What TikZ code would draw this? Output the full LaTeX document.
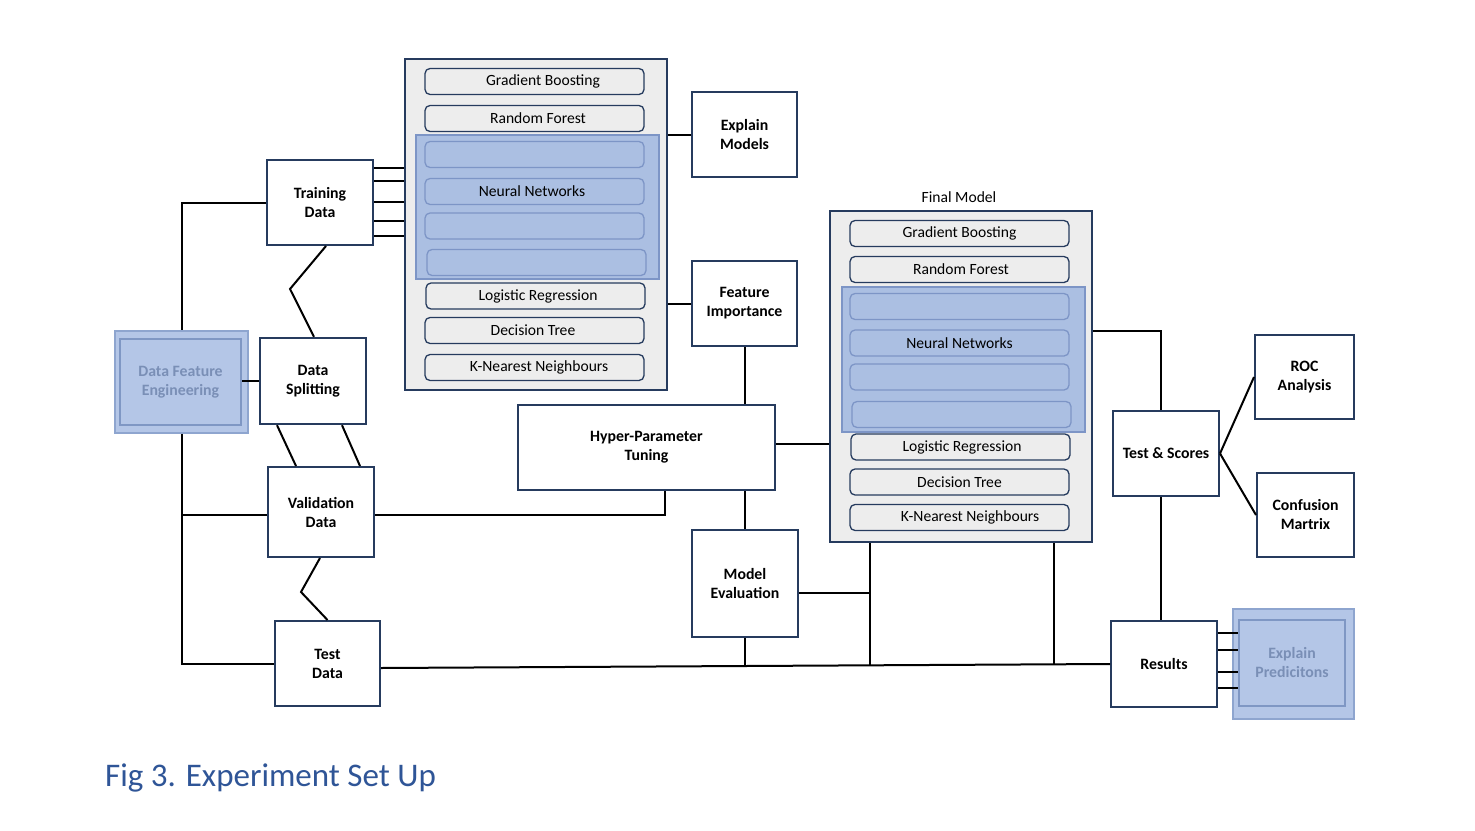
\documentclass[tikz,border=0pt]{standalone}
\usepackage{fontspec}
\setmainfont{Carlito}
\begin{document}
\begin{tikzpicture}[x=1pt,y=-1pt,
  font=\fontsize{15.6}{19}\selectfont,
  box/.style={draw=bordc,line width=2pt,fill=white,align=center,font=\fontsize{15.8}{19}\selectfont\bfseries,inner sep=0pt},
  cont/.style={draw=bordc,line width=2pt,fill=grayf,inner sep=0pt},
  item/.style={draw=bordc,line width=1.3pt,rounded corners=5pt,fill=grayf,minimum width=219pt,minimum height=26pt,inner sep=0pt},
  bitem/.style={draw=bluebord,line width=1.3pt,rounded corners=5pt,fill=bluef,minimum width=219pt,minimum height=26pt,inner sep=0pt},
  bpanel/.style={draw=bluebord,line width=1.2pt,fill=bluef,inner sep=0pt},
  hlo/.style={draw=hlbord,line width=1.5pt,fill=hlfill,inner sep=0pt},
  hli/.style={draw=hlinner,line width=2.5pt,fill=hlfill,align=center,text=hltext,font=\fontsize{15.8}{19}\selectfont\bfseries,inner sep=0pt},
  conn/.style={draw=black,line width=2pt}]
\definecolor{bordc}{HTML}{263B5E}
\definecolor{grayf}{HTML}{EDEDED}
\definecolor{bluef}{HTML}{ABBFE2}
\definecolor{bluebord}{HTML}{7D95C6}
\definecolor{hlfill}{HTML}{B4C6E7}
\definecolor{hlbord}{HTML}{8EA5CF}
\definecolor{hlinner}{HTML}{7F97C4}
\definecolor{hltext}{HTML}{7A8FB6}
\definecolor{capc}{HTML}{2F5597}
\useasboundingbox (0,0) rectangle (1475,830);
\fill[white] (0,0) rectangle (1475,830);

% ---------- left model container ----------
\node[cont,minimum width=262pt,minimum height=331pt] (lc) at (536,224.5) {};
\node[item] (lgb) at (534.5,81.5) {\hspace*{17pt}Gradient Boosting};
\node[item] (lrf) at (534.5,118.5) {\hspace*{7pt}Random Forest};
\node[bpanel,minimum width=243pt,minimum height=144pt] (lbp) at (537.5,207) {};
\node[bitem] (lb1) at (534.5,154.5) {};
\node[bitem] (lnn) at (534.5,191.5) {Neural Networks\hspace*{5pt}};
\node[bitem] (lb3) at (534.5,226) {};
\node[bitem] (lb4) at (536.5,262.5) {};
\node[item] (llr) at (535.5,296) {\hspace*{5pt}Logistic Regression};
\node[item] (ldt) at (534.5,330.5) {Decision Tree\hspace*{3pt}};
\node[item] (lkn) at (534.5,367.5) {\hspace*{9pt}K-Nearest Neighbours};

% ---------- final model container ----------
\node (fmt) at (959,197) {Final Model};
\node[cont,minimum width=262pt,minimum height=331pt] (fm) at (961,376.5) {};
\node[item] (fgb) at (959.5,233.5) {Gradient Boosting};
\node[item] (frf) at (959.5,269.5) {\hspace*{3pt}Random Forest};
\node[bpanel,minimum width=243pt,minimum height=145pt] (fbp) at (963.5,359.5) {};
\node[bitem] (fb1) at (959.5,306.5) {};
\node[bitem] (fnn) at (959.5,343) {Neural Networks};
\node[bitem] (fb3) at (959.5,377) {};
\node[bitem] (fb4) at (961.5,414.5) {};
\node[item] (flr) at (960.5,447) {\hspace*{3pt}Logistic Regression};
\node[item] (fdt) at (959.5,482) {Decision Tree};
\node[item] (fkn) at (959.5,517.5) {\hspace*{21pt}K-Nearest Neighbours};

% ---------- boxes ----------
\node[box,minimum width=106pt,minimum height=85pt] (tr) at (320,202.5) {Training\\Data};
\node[hlo,minimum width=133pt,minimum height=102pt] (dfeo) at (181.5,382) {};
\node[hli,minimum width=121pt,minimum height=86pt] (dfe) at (180.5,382) {Data Feature\\Engineering};
\node[box,minimum width=106pt,minimum height=86pt,line width=2.4pt] (ds) at (313,381) {Data\\Splitting};
\node[box,minimum width=106pt,minimum height=90pt] (val) at (321,512) {Validation\\Data};
\node[box,minimum width=105pt,minimum height=85pt] (te) at (327.5,663.5) {Test\\Data};
\node[box,minimum width=105pt,minimum height=85pt] (em) at (744.5,134.5) {Explain\\Models};
\node[box,minimum width=105pt,minimum height=85pt] (fi) at (744.5,303.5) {Feature\\Importance};
\node[box,minimum width=257pt,minimum height=85pt] (hp) at (646.5,447.5) {Hyper-Parameter\\Tuning};
\node[box,minimum width=106pt,minimum height=107pt] (me) at (745,583.5) {Model\\Evaluation};
\node[box,minimum width=106pt,minimum height=85pt] (ts) at (1166,453.5) {Test \& Scores};
\node[box,minimum width=99pt,minimum height=84pt] (roc) at (1304.5,377) {ROC\\Analysis};
\node[box,minimum width=97pt,minimum height=84pt] (cm) at (1305.5,515) {Confusion\\Martrix};
\node[box,minimum width=106pt,minimum height=86pt] (res) at (1164,664) {Results};
\node[hlo,minimum width=121pt,minimum height=110pt] (epo) at (1293.5,664) {};
\node[hli,minimum width=106pt,minimum height=86pt] (ep) at (1292,663) {Explain\\Predicitons};

% ---------- connectors ----------
\foreach \yy in {168,181,202,221,236}
  \draw[conn] (tr.east |- 0,\yy) -- (lc.west |- 0,\yy);
\draw[conn] (tr.west) -| (dfeo.north);
\draw[conn] (ds.west) -- (ds.west -| dfe.east);
\coordinate (z1) at (290,289);
\draw[conn] ([xshift=6pt]tr.south) -- (z1) -- ([xshift=1pt]ds.north);
\draw[conn] ([xshift=-36pt]ds.south) -- ([xshift=-25pt]val.north);
\draw[conn] ([xshift=29pt]ds.south) -- ([xshift=39pt]val.north);
\draw[conn] (dfeo.south) |- (te.west);
\draw[conn] ([yshift=-3pt]val.west) -- ([yshift=-3pt]val.west -| dfeo.south);
\draw[conn] ([yshift=-3pt]val.east) -| ([xshift=18.5pt]hp.south);
\coordinate (z2) at (301,592);
\draw[conn] ([xshift=-1pt]val.south) -- (z2) -- (te.north);
\draw[conn] ([yshift=-4.5pt]te.east) -- (res.west);
\draw[conn] (em.west) -- (em.west -| lc.east);
\draw[conn] (fi.west) -- (fi.west -| lc.east);
\draw[conn] (fi.south) -- (fi.south |- hp.north);
\draw[conn] ([yshift=4pt]hp.east) -- ([yshift=4pt]hp.east -| fm.west);
\draw[conn] (me.north) -- (me.north |- hp.south);
\coordinate (j1) at (870,664.5);
\coordinate (j2) at (1054,664);
\coordinate (j0) at (745,666);
\draw[conn] (me.south) -- (j0);
\draw[conn] (fm.south -| j1) -- (j1);
\draw[conn] (fm.south -| j2) -- (j2);
\draw[conn] ([yshift=-9pt]me.east) -- ([yshift=-9pt]me.east -| j1);
\draw[conn] (fm.east |- 0,331) -| ([xshift=-5pt]ts.north);
\draw[conn] (ts.east) -- (roc.west);
\draw[conn] (ts.east) -- (cm.west);
\draw[conn] ([xshift=-5pt]ts.south) -- ([xshift=-3pt]res.north);
\foreach \yy in {633,650,672,688}
  \draw[conn] (res.east |- 0,\yy) -- (ep.west |- 0,\yy);

% ---------- caption ----------
\node[anchor=base west,inner sep=0pt,text=capc,font=\fontsize{33}{40}\selectfont] (cap) at (105,786) {Fig 3. Experiment Set Up};
\end{tikzpicture}
\end{document}
